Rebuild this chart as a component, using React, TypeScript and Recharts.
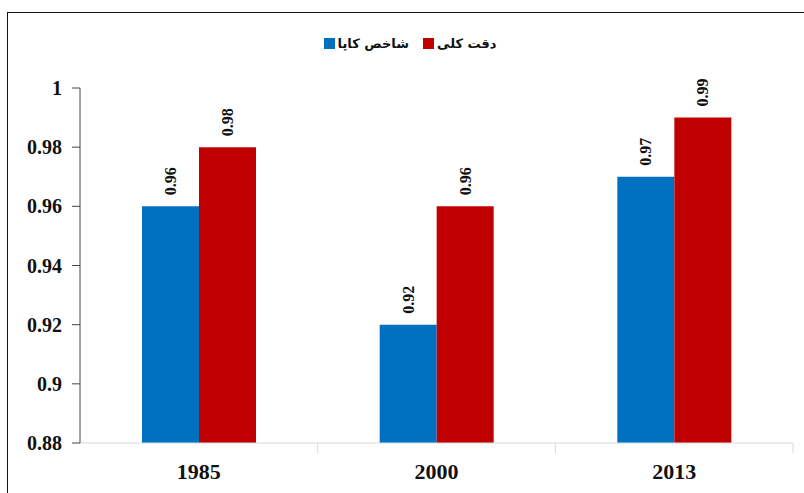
import { BarChart, Bar, XAxis, YAxis, LabelList } from 'recharts';

const years = ['1985', '2000', '2013'];
const kappa = [0.96, 0.92, 0.97];
const accuracy = [0.98, 0.96, 0.99];
const yTicks = [0.88, 0.9, 0.92, 0.94, 0.96, 0.98, 1];

const KAPPA_NAME = 'شاخص کاپا';
const ACC_NAME = 'دقت کلی';

const data = years.map((year, i) => ({
  year,
  kappa: kappa[i],
  accuracy: accuracy[i],
}));

const fmt = (v: number) => String(parseFloat(Number(v).toFixed(2)));

function XTick(props: any) {
  const { x, y, payload } = props;
  const half = payload?.offset ?? 118;
  return (
    <g>
      <line x1={x + half} y1={y - 8} x2={x + half} y2={y + 2} stroke="#d9d9d9" />
      <text
        x={x}
        y={y + 28}
        textAnchor="middle"
        fontFamily="'Liberation Serif', serif"
        fontWeight="bold"
        fontSize={22}
        fill="#111"
      >
        {payload.value}
      </text>
    </g>
  );
}

function BarLabel(props: any) {
  const { x, y, width, value } = props;
  const cx = x + width / 2;
  const cy = y - 11;
  return (
    <text
      x={cx}
      y={cy}
      transform={`rotate(-90 ${cx} ${cy})`}
      textAnchor="start"
      dominantBaseline="central"
      fontFamily="'Liberation Serif', serif"
      fontWeight="bold"
      fontSize={16}
      fill="#111"
    >
      {fmt(value)}
    </text>
  );
}

function LegendBox() {
  const item = (color: string, label: string) => (
    <span style={{ display: 'inline-flex', alignItems: 'center', marginRight: 14 }}>
      <span style={{ width: 11, height: 11, background: color, display: 'inline-block', marginRight: 3 }} />
      <span style={{ direction: 'rtl' }}>{label}</span>
    </span>
  );
  return (
    <div
      style={{
        position: 'absolute',
        top: 36,
        left: 0,
        width: 804,
        textAlign: 'center',
        fontFamily: "'DejaVu Sans', sans-serif",
        fontWeight: 'bold',
        fontSize: 13,
        color: '#111',
        paddingLeft: 30,
        boxSizing: 'border-box',
      }}
    >
      {item('#0070C0', KAPPA_NAME)}
      {item('#C00000', ACC_NAME)}
    </div>
  );
}

export default function App() {
  return (
    <div
      style={{
        position: 'absolute',
        left: 0,
        top: 0,
        width: 804,
        height: 493,
        overflow: 'hidden',
        background: '#fff',
      }}
    >
      <div
        style={{
          position: 'absolute',
          left: 7,
          top: 12,
          width: 820,
          height: 520,
          border: '1.5px solid #111',
        }}
      />
      <div style={{ position: 'absolute', left: 0, top: 0 }}>
        <BarChart
          width={804}
          height={493}
          data={data}
          margin={{ top: 88, right: 11, bottom: 10, left: 0 }}
          barGap={0}
          barSize={57}
        >
          <XAxis
            dataKey="year"
            height={40}
            axisLine={{ stroke: '#d9d9d9' }}
            tickLine={false}
            tick={<XTick />}
            interval={0}
          />
          <YAxis
            width={80}
            domain={[0.88, 1]}
            ticks={yTicks}
            tickFormatter={fmt}
            interval={0}
            allowDataOverflow
            axisLine={{ stroke: '#444' }}
            tickLine={{ stroke: '#444' }}
            tickSize={8}
            tickMargin={10}
            tick={{
              fontFamily: "'Liberation Serif', serif",
              fontWeight: 'bold',
              fontSize: 20,
              fill: '#111',
            }}
          />
          <Bar dataKey="kappa" name={KAPPA_NAME} fill="#0070C0" isAnimationActive={false}>
            <LabelList dataKey="kappa" content={<BarLabel />} />
          </Bar>
          <Bar dataKey="accuracy" name={ACC_NAME} fill="#C00000" isAnimationActive={false}>
            <LabelList dataKey="accuracy" content={<BarLabel />} />
          </Bar>
        </BarChart>
      </div>
      <LegendBox />
    </div>
  );
}
